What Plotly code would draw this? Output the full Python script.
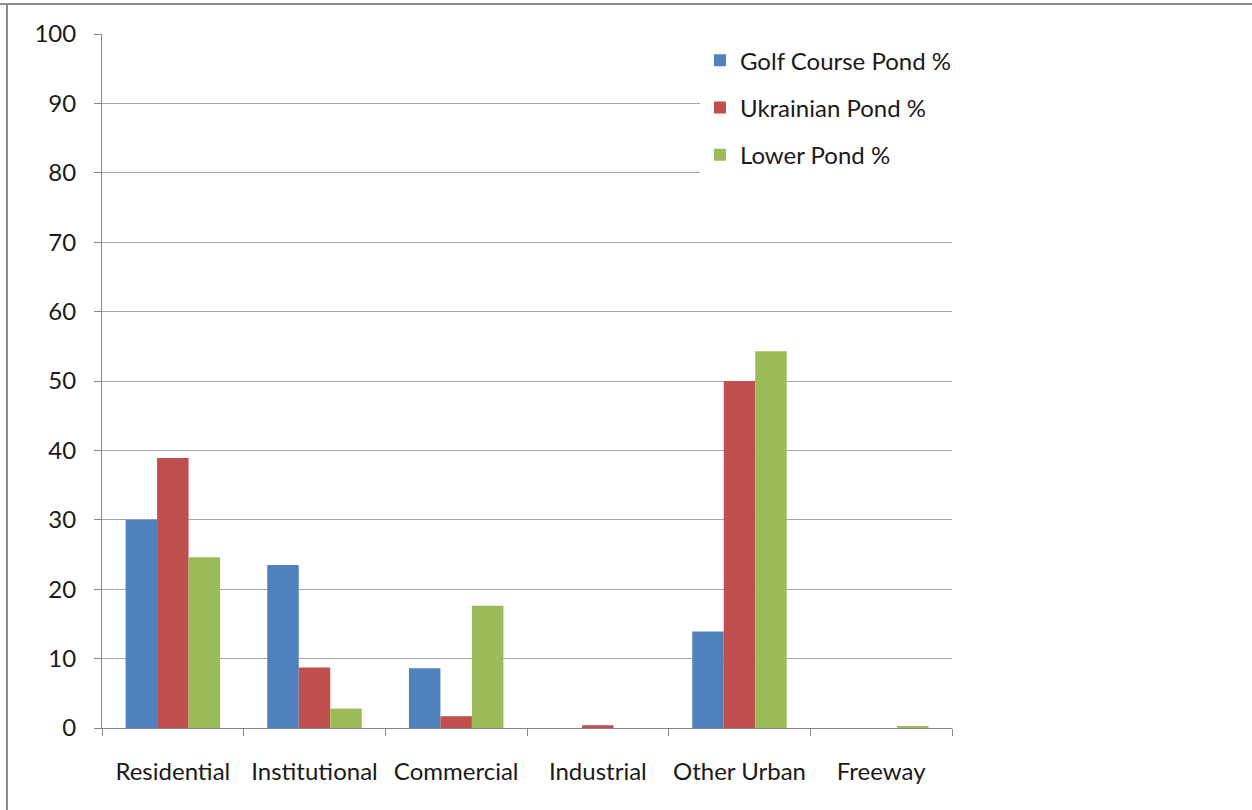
import plotly.graph_objects as go

# Land-use categories and the share (%) of each pond's catchment
categories = ["Residential", "Institutional", "Commercial", "Industrial", "Other Urban", "Freeway"]
golf_course_pond = [30.0, 23.5, 8.6, 0.0, 13.9, 0.0]
ukrainian_pond = [38.9, 8.7, 1.7, 0.4, 50.0, 0.0]
lower_pond = [24.6, 2.8, 17.6, 0.0, 54.3, 0.25]

y_ticks = [0, 10, 20, 30, 40, 50, 60, 70, 80, 90, 100]

FONT = "Lato, Calibri, Carlito, sans-serif"
AXIS_GREY = "#868686"
GRID_GREY = "#a6a6a6"

series = [
    ("Golf Course Pond %", golf_course_pond, "#4F81BD"),
    ("Ukrainian Pond %", ukrainian_pond, "#C0504D"),
    ("Lower Pond %", lower_pond, "#9BBB59"),
]

fig = go.Figure()
for name, values, color in series:
    fig.add_trace(go.Bar(
        x=categories,
        y=values,
        name=name,
        legendgroup=name,
        marker=dict(color=color, line=dict(width=0)),
    ))

fig.update_layout(
    width=1252,
    height=810,
    paper_bgcolor="white",
    plot_bgcolor="white",
    barmode="group",
    bargap=0.333,
    bargroupgap=0,
    margin=dict(l=102, r=300, t=34, b=82),
    font=dict(family=FONT, size=24, color="#1a1a1a"),
    showlegend=True,
    legend=dict(
        x=0.7035, xanchor="left",
        y=0.994, yanchor="top",
        bgcolor="white",
        borderwidth=0,
        tracegroupgap=13,
        font=dict(family=FONT, size=24, color="#1a1a1a"),
    ),
    xaxis=dict(
        type="category",
        automargin=False,
        tickangle=0,
        showline=True,
        linecolor=AXIS_GREY,
        linewidth=1,
        ticks="outside",
        tickson="boundaries",
        ticklen=7,
        tickcolor=AXIS_GREY,
        ticklabelstandoff=22,
        showgrid=False,
        zeroline=False,
    ),
    yaxis=dict(
        range=[0, 100],
        automargin=False,
        tickvals=y_ticks,
        ticktext=[str(v) for v in y_ticks],
        showline=True,
        linecolor=AXIS_GREY,
        linewidth=1,
        ticks="outside",
        ticklen=7,
        tickcolor=AXIS_GREY,
        ticklabelstandoff=13,
        showgrid=True,
        gridcolor=GRID_GREY,
        gridwidth=1,
        zeroline=False,
    ),
    shapes=[
        # chart frame (top and left edges)
        dict(type="line", xref="paper", yref="paper",
             x0=-102 / 850, x1=1.5, y0=1 + 30 / 694, y1=1 + 30 / 694,
             line=dict(color="#8c8c8c", width=2)),
        dict(type="line", xref="paper", yref="paper",
             x0=-95 / 850, x1=-95 / 850, y0=-0.2, y1=1 + 30 / 694,
             line=dict(color="#8c8c8c", width=2)),
    ],
)

fig.write_html("out.html")
